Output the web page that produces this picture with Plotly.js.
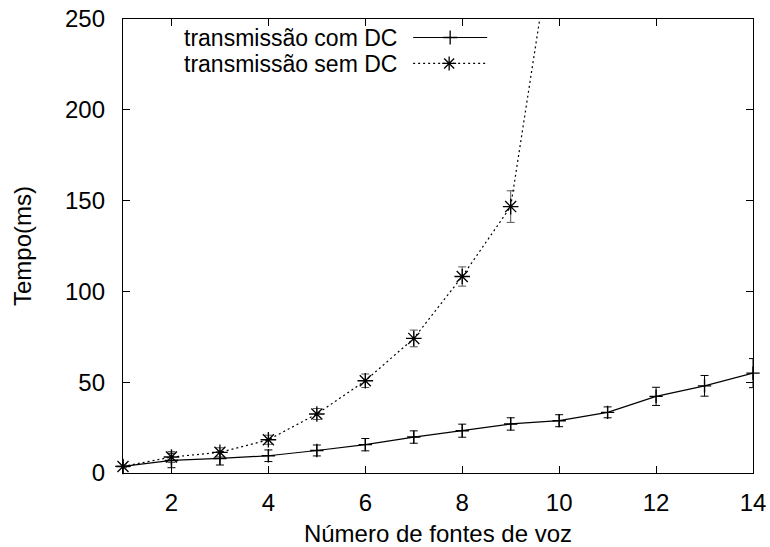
<!DOCTYPE html>
<html>
<head>
<meta charset="utf-8">
<script src="https://cdn.plot.ly/plotly-3.0.1.min.js"></script>
<style>html,body{margin:0;padding:0;background:#fff;}#chart{width:770px;height:547px;}</style>
</head>
<body>
<div id="chart"></div>
<script>
// Number of voice sources
const fontes = [1, 2, 3, 4, 5, 6, 7, 8, 9, 10, 11, 12, 13, 14];
// Transmission with DC (ms) and error
const comDC = [3.6, 6.9, 8.0, 9.5, 12.4, 15.6, 19.8, 23.3, 27.0, 28.8, 33.4, 42.2, 48.0, 55.0];
const comDCerr = [0.6, 4.0, 3.6, 3.2, 3.0, 3.4, 3.4, 3.6, 3.4, 3.3, 3.0, 5.0, 5.7, 8.0];
// Transmission without DC (ms) and error
const fontesSem = [1, 2, 3, 4, 5, 6, 7, 8, 9, 10];
const semDC = [3.6, 8.8, 11.4, 18.3, 32.5, 50.8, 74.1, 108.2, 146.7, 319];
const semDCerr = [0.6, 3.0, 2.5, 2.5, 3.0, 3.7, 4.6, 5.3, 8.7, 12];
// Labels
const legendLabels = ["transmissão com DC", "transmissão sem DC"];
const xTicks = [2, 4, 6, 8, 10, 12, 14];
const yTicks = [0, 50, 100, 150, 200, 250];

const FONT = "Liberation Sans, Arial, Helvetica, sans-serif";

const traces = [
  {
    x: fontes, y: comDC, type: "scatter", mode: "lines+markers", name: legendLabels[0],
    line: {color: "#000", width: 1.2},
    marker: {symbol: "cross-thin-open", size: 9.5, line: {color: "#000", width: 1.4}},
    error_y: {type: "data", array: comDCerr, visible: true, color: "#000", thickness: 1, width: 4},
    cliponaxis: false, showlegend: false
  },
  {
    x: fontesSem, y: semDC, type: "scatter", mode: "lines+markers", name: legendLabels[1],
    line: {color: "#000", width: 1.2, dash: "2px,3px"},
    marker: {symbol: "asterisk-open", size: 13, line: {color: "#000", width: 1.3}},
    error_y: {type: "data", array: semDCerr, visible: true, color: "#555", thickness: 1, width: 4},
    cliponaxis: false, showlegend: false
  }
];

// Legend (gnuplot style: text on the left, sample on the right)
const pw = 629.7, ph = 454.3, px0 = 123, pyBottom = 473.3;
const toPx = (x) => (x - px0) / pw;
const toPy = (y) => (pyBottom - y) / ph;
const rowsY = [37.5, 63.5];
const annotations = legendLabels.map((t, i) => ({
  text: t, xref: "paper", yref: "paper", x: toPx(398), y: toPy(rowsY[i] + 0.5),
  xanchor: "right", yanchor: "middle", showarrow: false, borderpad: 0,
  font: {family: FONT, size: 23, color: "#000"}
}));
const shapes = [
  {type: "line", xref: "paper", yref: "paper", x0: toPx(413), x1: toPx(487), y0: toPy(rowsY[0]), y1: toPy(rowsY[0]),
   line: {color: "#000", width: 1.2}},
  {type: "line", xref: "paper", yref: "paper", x0: toPx(413), x1: toPx(487), y0: toPy(rowsY[1]), y1: toPy(rowsY[1]),
   line: {color: "#000", width: 1.2, dash: "2px,3px"}},
  {type: "path", xref: "paper", yref: "paper", xsizemode: "pixel", ysizemode: "pixel",
   xanchor: toPx(450), yanchor: toPy(rowsY[0]),
   path: "M-7,0L7,0M0,-7L0,7", line: {color: "#000", width: 1.3}},
  {type: "path", xref: "paper", yref: "paper", xsizemode: "pixel", ysizemode: "pixel",
   xanchor: toPx(449), yanchor: toPy(rowsY[1]),
   path: "M-7,0L7,0M0,-7L0,7M-5,-5L5,5M-5,5L5,-5", line: {color: "#000", width: 1.3}}
];

const layout = {
  width: 770, height: 547,
  margin: {l: 123, r: 17, t: 19, b: 74, pad: 0},
  paper_bgcolor: "#fff", plot_bgcolor: "#fff",
  font: {family: FONT, size: 24, color: "#000"},
  showlegend: false,
  xaxis: {
    range: [1, 14], tickvals: xTicks, ticktext: xTicks.map(String),
    ticks: "inside", ticklen: 7, tickwidth: 1, tickcolor: "#000",
    showline: true, linecolor: "#000", linewidth: 1.2, mirror: "ticks",
    showgrid: false, zeroline: false, automargin: false,
    ticklabelstandoff: 8,
    tickfont: {family: FONT, size: 24, color: "#000"},
    title: {text: "Número de fontes de voz", font: {family: FONT, size: 24, color: "#000"}, standoff: 10}
  },
  yaxis: {
    range: [0, 250], tickvals: yTicks, ticktext: yTicks.map(String),
    ticks: "inside", ticklen: 7, tickwidth: 1, tickcolor: "#000",
    showline: true, linecolor: "#000", linewidth: 1.2, mirror: "ticks",
    showgrid: false, zeroline: false, automargin: false,
    ticklabelstandoff: 12,
    tickfont: {family: FONT, size: 24, color: "#000"},
    title: {text: "Tempo(ms)", font: {family: FONT, size: 24, color: "#000"}, standoff: 26}
  },
  annotations: annotations,
  shapes: shapes
};

Plotly.newPlot("chart", traces, layout, {displayModeBar: false, staticPlot: true});
</script>
</body>
</html>
